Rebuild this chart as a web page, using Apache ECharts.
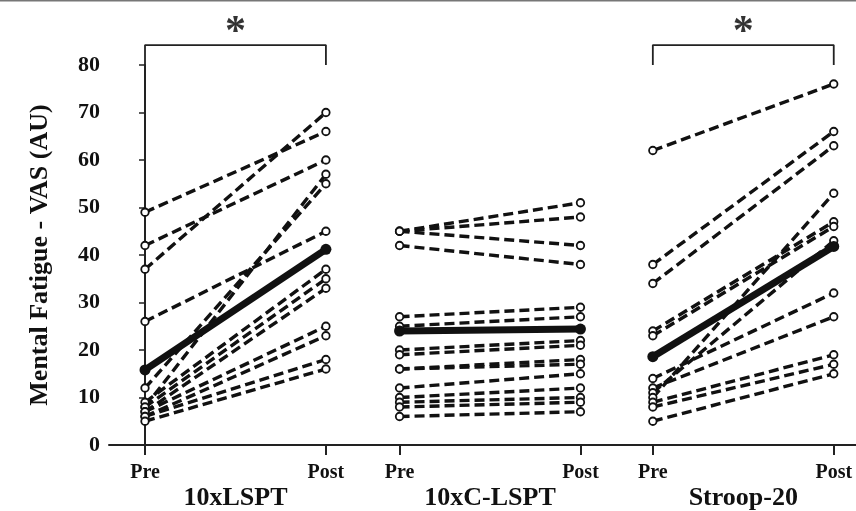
<!DOCTYPE html>
<html>
<head>
<meta charset="utf-8">
<script src="https://cdn.jsdelivr.net/npm/echarts@6/dist/echarts.min.js"></script>
<style>
html,body{margin:0;padding:0;background:#fff;}
#c{width:856px;height:511px;}
</style>
</head>
<body>
<div id="c"></div>
<script>
// ---- data ----
const groups = ['10xLSPT', '10xC-LSPT', 'Stroop-20'];
const timeLabels = ['Pre', 'Post'];
const yTicks = [0, 10, 20, 30, 40, 50, 60, 70, 80];

const g1Pre  = [49, 42, 37, 26, 12, 8, 9, 8, 7, 7, 6, 6, 5];
const g1Post = [66, 60, 70, 45, 55, 57, 37, 35, 33, 25, 23, 18, 16];

const g2Pre  = [45, 45, 45, 42, 27, 25, 20, 19, 16, 16, 12, 10, 9, 8, 6];
const g2Post = [51, 48, 42, 38, 29, 27, 22, 21, 18, 17, 15, 12, 10, 9, 7];

const g3Pre  = [62, 38, 34, 24, 23, 14, 12, 11, 10, 9, 8, 5];
const g3Post = [76, 66, 63, 47, 46, 32, 27, 43, 53, 19, 17, 15];

const meanPre  = [15.8, 24, 18.6];
const meanPost = [41.2, 24.4, 41.8];

const sigGroups = [0, 2];     // groups with significance bracket
const sigLabel = '*';

// ---- layout (positions of Pre/Post on the x value axis) ----
const xPos = [[0, 1], [1.407, 2.407], [2.807, 3.807]];
const bracketLow = 80, bracketHigh = 84.2, starY = 86.6;

const FONT = '"Liberation Serif", "DejaVu Serif", serif';
const preArr = [g1Pre, g2Pre, g3Pre];
const postArr = [g1Post, g2Post, g3Post];

const series = [];
for (let g = 0; g < 3; g++) {
  const pre = preArr[g], post = postArr[g];
  for (let i = 0; i < pre.length; i++) {
    series.push({
      type: 'line',
      data: [[xPos[g][0], pre[i]], [xPos[g][1], post[i]]],
      symbol: 'circle',
      symbolSize: 7.5,
      showSymbol: true,
      silent: true,
      animation: false,
      lineStyle: { color: '#111', width: 3.4, type: [10, 5] },
      itemStyle: { color: '#fff', borderColor: '#111', borderWidth: 1.8 },
      z: 2
    });
  }
}
for (let g = 0; g < 3; g++) {
  series.push({
    type: 'line',
    data: [[xPos[g][0], meanPre[g]], [xPos[g][1], meanPost[g]]],
    symbol: 'circle',
    symbolSize: 11,
    silent: true,
    animation: false,
    lineStyle: { color: '#111', width: 7 },
    itemStyle: { color: '#111', borderColor: '#111', borderWidth: 0 },
    z: 4
  });
}
sigGroups.forEach(g => {
  series.push({
    type: 'line',
    data: [[xPos[g][0], bracketLow], [xPos[g][0], bracketHigh], [xPos[g][1], bracketHigh], [xPos[g][1], bracketLow]],
    symbol: 'none',
    clip: false,
    silent: true,
    animation: false,
    lineStyle: { color: '#222', width: 1.8 },
    z: 3
  });
  series.push({
    type: 'scatter',
    data: [[(xPos[g][0] + xPos[g][1]) / 2, starY]],
    symbolSize: 0,
    clip: false,
    silent: true,
    animation: false,
    label: { show: true, position: 'inside', formatter: sigLabel, fontFamily: FONT, fontWeight: 'bold', fontSize: 42, color: '#000' },
    z: 3
  });
});

const tickVals = [], tickMap = {};
xPos.forEach(p => { tickVals.push(p[0], p[1]); tickMap[p[0]] = timeLabels[0]; tickMap[p[1]] = timeLabels[1]; });
const groupVals = [], groupMap = {};
xPos.forEach((p, i) => { const m = +( (p[0] + p[1]) / 2 ).toFixed(4); groupVals.push(m); groupMap[m] = groups[i]; });

const chart = echarts.init(document.getElementById('c'));
chart.setOption({
  animation: false,
  backgroundColor: '#fff',
  grid: { left: 109, right: 0, top: 65, bottom: 66, containLabel: false },
  xAxis: [{
    type: 'value', min: -0.199, max: 3.93,
    splitLine: { show: false },
    axisLine: { show: true, lineStyle: { color: '#222', width: 2 } },
    axisTick: { show: true, customValues: tickVals, length: 10, lineStyle: { color: '#222', width: 2 } },
    axisLabel: { show: true, customValues: tickVals, margin: 18, formatter: v => tickMap[v] || '',
      fontFamily: FONT, fontWeight: 'bold', fontSize: 20, color: '#111' }
  }, {
    type: 'value', min: -0.199, max: 3.93, position: 'bottom',
    splitLine: { show: false },
    axisLine: { show: false }, axisTick: { show: false },
    axisLabel: { show: true, customValues: groupVals, margin: 40, formatter: v => groupMap[+v.toFixed(4)] || '',
      fontFamily: FONT, fontWeight: 'bold', fontSize: 26, color: '#111' }
  }],
  yAxis: {
    type: 'value', min: 0, max: 80, interval: 10,
    name: 'Mental Fatigue - VAS (AU)', nameLocation: 'middle', nameGap: 56, nameRotate: 90,
    nameTextStyle: { fontFamily: FONT, fontWeight: 'bold', fontSize: 26, color: '#111' },
    splitLine: { show: false },
    axisLine: { show: true, lineStyle: { color: '#222', width: 2 } },
    axisTick: { show: true, inside: false, length: 6, lineStyle: { color: '#222', width: 1.5 } },
    axisLabel: { margin: 9, fontFamily: FONT, fontWeight: 'bold', fontSize: 22, color: '#111',
      formatter: v => yTicks.includes(v) ? String(v) : '' }
  },
  graphic: [{ type: 'rect', shape: { x: 0, y: 0, width: 856, height: 1.5 }, style: { fill: '#777' }, silent: true }],
  series: series
});
</script>
</body>
</html>
